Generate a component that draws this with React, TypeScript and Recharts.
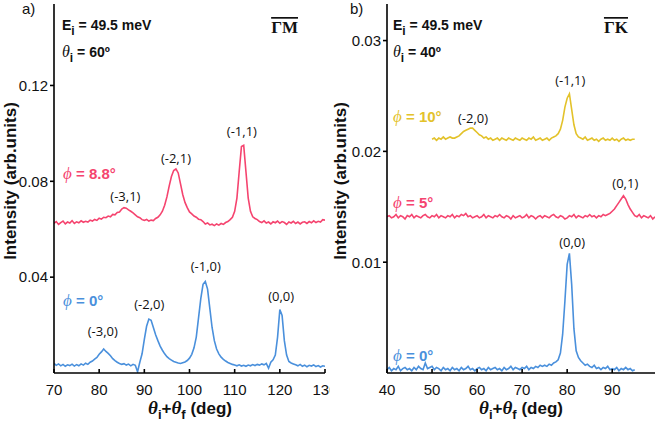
import React from "react";
import { LineChart, Line, XAxis, YAxis, ReferenceDot } from "recharts";

const PINK = "#f5446f";
const BLUE = "#4a90dc";
const YELLOW = "#e3c22a";
const STEP = 0.5;

// panel a) theta_i = 60, along GM, samples every 0.5 deg from 70
const aStart = 70;
const aPhi88 = [
  0.0625, 0.0632, 0.062, 0.0628, 0.0634, 0.0622, 0.063, 0.0626, 0.0636, 0.0624,
  0.0631, 0.0627, 0.0635, 0.0629, 0.0633, 0.063, 0.0638, 0.0634, 0.0641, 0.0637,
  0.0646, 0.0642, 0.065, 0.0648, 0.0655, 0.0652, 0.0662, 0.066, 0.067, 0.0672,
  0.0684, 0.069, 0.0688, 0.0681, 0.0675, 0.0668, 0.066, 0.0652, 0.0648, 0.064,
  0.0637, 0.0641, 0.0634, 0.0638, 0.0636, 0.0645, 0.065, 0.066, 0.0675, 0.07,
  0.0735, 0.078, 0.082, 0.0845, 0.0852, 0.0835, 0.079, 0.0745, 0.0712, 0.069,
  0.0672, 0.0664, 0.0655, 0.065, 0.0642, 0.064, 0.0632, 0.0622, 0.0626, 0.0618,
  0.0621, 0.0615, 0.0622, 0.0617, 0.0624, 0.062, 0.0628, 0.0632, 0.064, 0.065,
  0.0675, 0.073, 0.084, 0.0945, 0.095, 0.084, 0.073, 0.0675, 0.0652, 0.0645,
  0.064, 0.0632, 0.0628, 0.0635, 0.0626, 0.063, 0.0622, 0.0631, 0.0627, 0.0634,
  0.0625, 0.0632, 0.0628, 0.062, 0.063, 0.0626, 0.0633, 0.0624, 0.063, 0.0622,
  0.0629, 0.0631, 0.0624, 0.0632, 0.0627, 0.0635, 0.0628, 0.0633, 0.063, 0.064,
  0.0638,
];
const aPhi0 = [
  0.004, 0.0032, 0.0038, 0.003, 0.0036, 0.0028, 0.0034, 0.0031, 0.0037, 0.0029,
  0.0035, 0.003, 0.0038, 0.0033, 0.0041, 0.0036, 0.0045, 0.005, 0.0058, 0.0065,
  0.0078, 0.0088, 0.01, 0.009, 0.0082, 0.0072, 0.006, 0.0052, 0.0045, 0.004,
  0.0036, 0.0039, 0.0033, 0.0037, 0.003, 0.0036, 0.0032, 0.0005, 0.0045, 0.008,
  0.014, 0.0195, 0.0225, 0.022, 0.019, 0.016, 0.0135, 0.0112, 0.0095, 0.008,
  0.0068, 0.006, 0.0054, 0.0048, 0.0045, 0.0042, 0.004, 0.0043, 0.0046, 0.0052,
  0.0062, 0.0078, 0.0105, 0.015, 0.023, 0.031, 0.037, 0.0382, 0.035, 0.027,
  0.019, 0.0135, 0.01, 0.008, 0.0066, 0.0057, 0.005, 0.0044, 0.004, 0.0036,
  0.0033, 0.003, 0.0034, 0.0029, 0.0032, 0.0028, 0.0033, 0.003, 0.0035, 0.0031,
  0.0036, 0.0033, 0.0038, 0.0034, 0.004, 0.002, 0.0045, 0.0055, 0.0075, 0.015,
  0.0265, 0.024, 0.0135, 0.0075, 0.0048, 0.0042, 0.0038, 0.0034, 0.003, 0.0036,
  0.0028, 0.0033, 0.0026, 0.0032, 0.0029, 0.0034, 0.0027, 0.0031, 0.0025, 0.003,
  0.0028,
];

// panel b) theta_i = 40, along GK
const bPhi10Start = 50;
const bPhi10 = [
  0.0211, 0.0212, 0.021, 0.0212, 0.0211, 0.0213, 0.0211, 0.0212, 0.0213, 0.0212,
  0.0212, 0.0213, 0.0214, 0.0216, 0.0218, 0.0219, 0.022, 0.0221, 0.0221, 0.0219,
  0.0217, 0.0215, 0.0214, 0.0212, 0.0213, 0.0211, 0.0212, 0.021, 0.0211, 0.0212,
  0.021, 0.0212, 0.0211, 0.021, 0.0212, 0.0211, 0.021, 0.0212, 0.0211, 0.021,
  0.0212, 0.0211, 0.021, 0.0212, 0.0211, 0.0213, 0.021, 0.0211, 0.0212, 0.021,
  0.0211, 0.0212, 0.021, 0.0212, 0.0213, 0.0214, 0.0216, 0.022, 0.0228, 0.024,
  0.0248, 0.0252, 0.0238, 0.0224, 0.0216, 0.0213, 0.0212, 0.0211, 0.0213, 0.021,
  0.0211, 0.0212, 0.021, 0.0211, 0.0209, 0.0211, 0.0212, 0.021, 0.0211, 0.021,
  0.0212, 0.021, 0.0211, 0.0209, 0.0211, 0.0212, 0.021, 0.0211, 0.021, 0.0211,
  0.0211,
];
const bPhi5Start = 40;
const bPhi5 = [
  0.0141, 0.0142, 0.014, 0.0141, 0.0143, 0.014, 0.0142, 0.0141, 0.0139, 0.0142,
  0.0141, 0.0143, 0.014, 0.0142, 0.0141, 0.014, 0.0142, 0.0143, 0.0141, 0.014,
  0.0142, 0.0141, 0.0143, 0.014, 0.0142, 0.0141, 0.014, 0.0142, 0.0141, 0.0143,
  0.014, 0.0142, 0.0141, 0.0143, 0.0142, 0.0144, 0.0141, 0.0142, 0.014, 0.0141,
  0.0142, 0.014, 0.0141, 0.0143, 0.014, 0.0142, 0.0141, 0.014, 0.0142, 0.0141,
  0.0143, 0.0141, 0.014, 0.0142, 0.0141, 0.0139, 0.0142, 0.014, 0.0141, 0.0142,
  0.014, 0.0141, 0.0143, 0.014, 0.0142, 0.0141, 0.0139, 0.0141, 0.0142, 0.014,
  0.0142, 0.0141, 0.014, 0.0142, 0.0143, 0.0141, 0.014, 0.0142, 0.0141, 0.0139,
  0.014, 0.0142, 0.0141, 0.0143, 0.014, 0.0142, 0.0141, 0.014, 0.0142, 0.0141,
  0.0143, 0.0141, 0.0142, 0.014, 0.0142, 0.0141, 0.0143, 0.0142, 0.0143, 0.0144,
  0.0146, 0.0148, 0.0151, 0.0154, 0.0157, 0.016, 0.0157, 0.0152, 0.0148, 0.0145,
  0.0142, 0.0141, 0.0143, 0.014, 0.0142, 0.0141, 0.014, 0.0142, 0.0139, 0.0141,
];
const bPhi0Start = 40;
const bPhi0 = [
  0.0003, 0.0005, 0.0002, 0.0004, 0.0003, 0.0006, 0.0002, 0.0004, 0.0005, 0.0003,
  0.0004, 0.0002, 0.0005, 0.0003, 0.0006, 0.0004, 0.0003, 0.0009, 0.0004, 0.0005,
  0.0006, 0.0003, 0.0005, 0.0004, 0.0002, 0.0005, 0.0003, 0.0004, 0.0002, 0.0005,
  0.0003, 0.0004, 0.0002, 0.0005, 0.0003, 0.0004, 0.0006, 0.0003, 0.0004, 0.0002,
  0.0004, 0.0005, 0.0003, 0.0004, 0.0002, 0.0005, 0.0003, 0.0004, 0.0005, 0.0003,
  0.0004, 0.0002, 0.0005, 0.0003, 0.0004, 0.0006, 0.0003, 0.0005, 0.0004, 0.0003,
  0.0005, 0.0004, 0.0006, 0.0003, 0.0005, 0.0004, 0.0006, 0.0005, 0.0007, 0.0006,
  0.0007, 0.0006, 0.0008, 0.0007, 0.0009, 0.001, 0.0012, 0.0018, 0.0035, 0.0065,
  0.0098, 0.0108, 0.008, 0.004, 0.002, 0.0014, 0.0011, 0.0009, 0.0007, 0.0008,
  0.0006, 0.0005, 0.0007, 0.0004, 0.0005, 0.0003, 0.0005, 0.0004, 0.0006, 0.0003,
  0.0004, 0.0003, 0.0005, 0.0002, 0.0004, 0.0003, 0.0005, 0.0003, 0.0004, 0.0002,
  0.0003,
];

const aXTicks = [70, 80, 90, 100, 110, 120, 130];
const aYTicks = [0.04, 0.08, 0.12];
const bXTicks = [40, 50, 60, 70, 80, 90];
const bYTicks = [0.01, 0.02, 0.03];

const aPeaks = [
  { t: "(-3,1)", x: 85.8, y: 0.0738 },
  { t: "(-2,1)", x: 97, y: 0.0896 },
  { t: "(-1,1)", x: 111.6, y: 0.1008 },
  { t: "(-3,0)", x: 80.8, y: 0.0175 },
  { t: "(-2,0)", x: 91.1, y: 0.0288 },
  { t: "(-1,0)", x: 103.6, y: 0.0446 },
  { t: "(0,0)", x: 120.3, y: 0.0321 },
];
const bPeaks = [
  { t: "(-2,0)", x: 59.1, y: 0.023 },
  { t: "(-1,1)", x: 80.7, y: 0.0264 },
  { t: "(0,1)", x: 92.9, y: 0.0171 },
  { t: "(0,0)", x: 81.1, y: 0.0118 },
];

const pts = (start: number, ys: number[]) => ys.map((y, i) => ({ x: start + i * STEP, y }));

const tickFont = { fontSize: 15, fill: "#111", fontFamily: "Liberation Sans, Arial" };
const blank = () => "";

function Panel({
  left, xDomain, yDomain, xTicks, yTicks, yWidth, series, peaks,
}: {
  left: number; xDomain: number[]; yDomain: number[]; xTicks: number[]; yTicks: number[]; yWidth: number;
  series: { data: { x: number; y: number }[]; color: string }[];
  peaks: { t: string; x: number; y: number }[];
}) {
  return (
    <LineChart width={330} height={424} margin={{ top: 4, right: 5, left: 0, bottom: 0 }}
      style={{ position: "absolute", left, top: 0 }}>
      <XAxis xAxisId="b" dataKey="x" type="number" domain={xDomain} ticks={xTicks} interval={0}
        height={51} tickSize={-4} tickMargin={15} stroke="#000" strokeWidth={1.6} tick={tickFont} allowDataOverflow />
      <XAxis xAxisId="t" orientation="top" mirror dataKey="x" type="number" domain={xDomain} ticks={xTicks}
        interval={0} height={0} tickSize={4} tickFormatter={blank} stroke="#000" strokeWidth={1.6} allowDataOverflow />
      <YAxis yAxisId="l" type="number" domain={yDomain} ticks={yTicks} interval={0} width={yWidth}
        tickSize={4} tickMargin={2} stroke="#000" strokeWidth={1.6} tick={tickFont}
        tickFormatter={(v: number) => v.toFixed(2)} allowDataOverflow />
      <YAxis yAxisId="r" orientation="right" mirror type="number" domain={yDomain} ticks={yTicks} interval={0}
        width={0} tickSize={4} tickFormatter={blank} stroke="#000" strokeWidth={1.6} allowDataOverflow />
      {series.map((s, i) => (
        <Line key={i} xAxisId="b" yAxisId="l" data={s.data} dataKey="y" stroke={s.color} strokeWidth={1.6}
          dot={false} activeDot={false} isAnimationActive={false} />
      ))}
      {peaks.map((p) => (
        <ReferenceDot key={p.t + p.x} xAxisId="b" yAxisId="l" x={p.x} y={p.y} r={0} fill="none" stroke="none"
          label={{ value: p.t, position: "center", fontSize: 13, fill: "#111", fontFamily: "Open Sans" }} />
      ))}
    </LineChart>
  );
}

const bold = { fontWeight: 700, fontFamily: "Liberation Sans, Arial" };

function Sub({ x, y, main, sub, rest, color, size = 14 }: { x: number; y: number; main: string; sub?: string; rest: string; color: string; size?: number }) {
  return (
    <text x={x} y={y} fill={color} fontSize={size} style={bold}>
      {main === "θ" || main === "ϕ" ? (
        <tspan fontFamily="Liberation Serif" fontStyle="italic" fontWeight={400} fontSize={size + 2}>{main}</tspan>
      ) : (
        <tspan>{main}</tspan>
      )}
      {sub ? <tspan dy={5} fontSize={size - 2}>{sub}</tspan> : null}
      <tspan dy={sub ? -5 : 0}>{rest}</tspan>
    </text>
  );
}

function XTitle({ cx }: { cx: number }) {
  const th = { fontFamily: "Liberation Serif", fontStyle: "italic" as const, fontSize: 19 };
  return (
    <text x={cx} y={414} textAnchor="middle" fontSize={17} style={bold} fill="#111">
      <tspan {...th}>θ</tspan>
      <tspan dy={5} fontSize={13}>i</tspan>
      <tspan dy={-5}>+</tspan>
      <tspan {...th}>θ</tspan>
      <tspan dy={5} fontSize={13}>f</tspan>
      <tspan dy={-5}> (deg)</tspan>
    </text>
  );
}

export default function App() {
  return (
    <div style={{ position: "fixed", left: 0, top: 0, width: 660, height: 424, background: "#fff" }}>
      <Panel left={0} xDomain={[70, 130]} yDomain={[0, 0.154]} xTicks={aXTicks} yTicks={aYTicks} yWidth={54}
        series={[{ data: pts(aStart, aPhi88), color: PINK }, { data: pts(aStart, aPhi0), color: BLUE }]}
        peaks={aPeaks} />
      <Panel left={330} xDomain={[40, 99.5]} yDomain={[0, 0.0333]} xTicks={bXTicks} yTicks={bYTicks} yWidth={57}
        series={[
          { data: pts(bPhi10Start, bPhi10), color: YELLOW },
          { data: pts(bPhi5Start, bPhi5), color: PINK },
          { data: pts(bPhi0Start, bPhi0), color: BLUE },
        ]}
        peaks={bPeaks} />
      <svg width={660} height={424} style={{ position: "absolute", left: 0, top: 0, pointerEvents: "none" }}>
        <text x={22} y={14} fontSize={15} fontFamily="Liberation Sans, Arial" fill="#111">a)</text>
        <text x={350} y={14} fontSize={15} fontFamily="Liberation Sans, Arial" fill="#111">b)</text>

        <Sub x={62} y={30} main="E" sub="i" rest=" = 49.5 meV" color="#111" />
        <Sub x={62} y={57} main="θ" sub="i" rest=" = 60º" color="#111" />
        <Sub x={393} y={30} main="E" sub="i" rest=" = 49.5 meV" color="#111" />
        <Sub x={393} y={57} main="θ" sub="i" rest=" = 40º" color="#111" />

        <text x={298} y={33} textAnchor="end" fontSize={17} fontWeight={700} fontFamily="Liberation Serif" fill="#111"
          style={{ textDecoration: "overline" }}>ΓM</text>
        <text x={628} y={33} textAnchor="end" fontSize={17} fontWeight={700} fontFamily="Liberation Serif" fill="#111"
          style={{ textDecoration: "overline" }}>ΓK</text>

        <Sub x={63} y={179} main="ϕ" rest=" = 8.8°" color={PINK} size={15} />
        <Sub x={63} y={306} main="ϕ" rest=" = 0°" color={BLUE} size={15} />
        <Sub x={393} y={122} main="ϕ" rest=" = 10°" color={YELLOW} size={15} />
        <Sub x={393} y={208} main="ϕ" rest=" = 5°" color={PINK} size={15} />
        <Sub x={393} y={361} main="ϕ" rest=" = 0°" color={BLUE} size={15} />

        <text transform="translate(16,181) rotate(-90)" textAnchor="middle" fontSize={17} style={bold} fill="#111">
          Intensity (arb.units)
        </text>
        <text transform="translate(346,181) rotate(-90)" textAnchor="middle" fontSize={17} style={bold} fill="#111">
          Intensity (arb.units)
        </text>
        <XTitle cx={190} />
        <XTitle cx={521} />
      </svg>
    </div>
  );
}
